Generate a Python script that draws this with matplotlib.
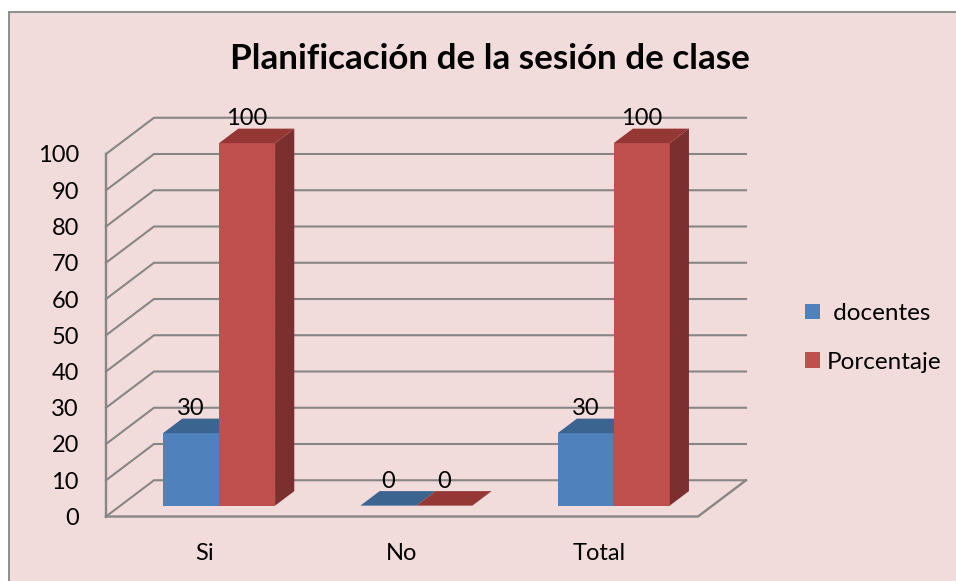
import matplotlib
matplotlib.use('Agg')
import matplotlib.pyplot as plt
from matplotlib.patches import Patch, Polygon, Rectangle

plt.rcParams['font.family'] = ['Lato', 'DejaVu Sans']

# datos
categorias = ['Si', 'No', 'Total']
docentes = [20, 0, 20]  # la barra dibujada llega a 20
docentes_etiquetas = ['30', '0', '30']  # aunque la etiqueta dice 30
porcentaje = [100, 0, 100]
porcentaje_etiquetas = ['100', '0', '100']
ticks_y = list(range(0, 101, 10))

W, H = 956, 581
FONDO = '#F2DCDB'
GRIS = '#868686'
TAM = 17

# profundidad del falso 3D, en unidades de los ejes
prof_x = 48 / 197.3
prof_y = 10
ancho = 56 / 197.3


def proy(x, v, d):
    return (x + d * prof_x, v + d * prof_y)


def barra(x0, v, frente, techo, lado):
    x1 = x0 + ancho
    d0, d1 = 0.3, 0.7
    ax.add_patch(Polygon([proy(x0, 0, d0), proy(x1, 0, d0), proy(x1, v, d0), proy(x0, v, d0)],
                         fc=frente, ec='none', zorder=3, clip_on=False))
    ax.add_patch(Polygon([proy(x1, 0, d0), proy(x1, 0, d1), proy(x1, v, d1), proy(x1, v, d0)],
                         fc=lado, ec='none', zorder=3, clip_on=False))
    ax.add_patch(Polygon([proy(x0, v, d0), proy(x1, v, d0), proy(x1, v, d1), proy(x0, v, d1)],
                         fc=techo, ec='none', zorder=3, clip_on=False))


fig = plt.figure(figsize=(W / 100, H / 100), dpi=100, facecolor='white')
fig.add_artist(Rectangle((9 / W, -0.01), 1, 1 - 12 / H + 0.01, transform=fig.transFigure,
                         fc=FONDO, ec=GRIS, lw=1.3, zorder=-1))

ax = fig.add_axes([106 / W, (H - 516.5) / H, 592 / W, 362.5 / H])
ax.patch.set_alpha(0)
ax.set_xlim(0, 3)
ax.set_ylim(0, 100)
for s in ax.spines.values():
    s.set_visible(False)

# paredes y rejilla
for v in ticks_y:
    xs = [0, prof_x, 3 + prof_x]
    ys = [v, v + prof_y, v + prof_y]
    ax.plot(xs, ys, color=GRIS, lw=1.5, clip_on=False, zorder=1, solid_joinstyle='miter')
ax.plot([0, 0], [0, 100], color=GRIS, lw=1.7, clip_on=False, zorder=2)
ax.plot([0, 3, 3 + prof_x], [0, 0, prof_y], color=GRIS, lw=1.7, clip_on=False, zorder=2)

for i in range(len(categorias)):
    c = i + 0.5
    barra(c - ancho, docentes[i], '#4F81BD', '#3C6491', '#3A5F8B')
    barra(c, porcentaje[i], '#C0504D', '#953735', '#7B2F2E')
    ax.annotate(docentes_etiquetas[i], proy(c - ancho / 2, docentes[i], 0.3), xytext=(0, 19),
                textcoords='offset points', ha='center', va='center_baseline', fontsize=TAM,
                color='black', zorder=5, annotation_clip=False)
    ax.annotate(porcentaje_etiquetas[i], proy(c + ancho / 2, porcentaje[i], 0.3), xytext=(0, 19),
                textcoords='offset points', ha='center', va='center_baseline', fontsize=TAM,
                color='black', zorder=5, annotation_clip=False)

ax.set_yticks(ticks_y)
ax.set_xticks([i + 0.5 for i in range(len(categorias))])
ax.set_xticklabels(categorias)
ax.tick_params(axis='y', length=0, pad=19.5, labelsize=TAM)
ax.tick_params(axis='x', length=0, pad=19, labelsize=TAM)
for t in ax.get_yticklabels():
    t.set_va('center_baseline')

fig.text(490 / W, (H - 59) / H, 'Planificación de la sesión de clase', ha='center', va='center',
         fontsize=25.2, fontweight='bold', color='black')

fig.legend(handles=[Patch(fc='#4F81BD', label=' docentes'), Patch(fc='#C0504D', label='Porcentaje')],
           loc='upper left', bbox_to_anchor=(805 / W, (H - 303) / H), frameon=False, fontsize=17.5,
           handlelength=0.62, handleheight=0.62, handletextpad=0.29, labelspacing=1.14,
           borderpad=0, borderaxespad=0)

fig.savefig('out.png', dpi=100)
